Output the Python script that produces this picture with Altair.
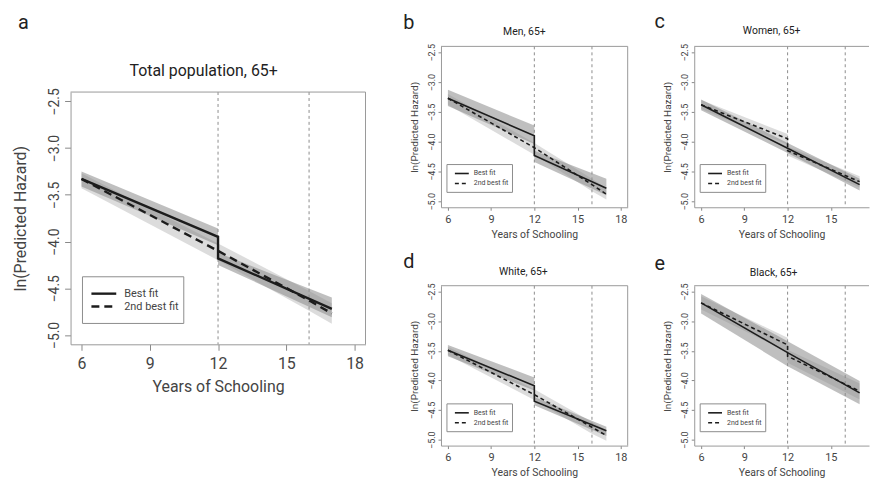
import altair as alt
import pandas as pd

X_TICKS = [6, 9, 12, 15, 18]
X_TICKS_CUT = [6, 9, 12, 15]
Y_TICKS = [-5.0, -4.5, -4.0, -3.5, -3.0, -2.5]
CUTOFFS = [12, 16]
SERIES = ["Best fit", "2nd best fit"]
X_TITLE = "Years of Schooling"
Y_TITLE = "ln(Predicted Hazard)"

# Panel a: Total population, 65+
A_BEST_X = [6, 12, 12, 17]
A_BEST_Y = [-3.33, -3.95, -4.18, -4.72]
A_BEST_LO = [-3.41, -4.04, -4.25, -4.81]
A_BEST_HI = [-3.25, -3.86, -4.12, -4.60]
A_SEC_X = [6, 12, 16, 17]
A_SEC_Y = [-3.33, -4.10, -4.63, -4.77]
A_SEC_LO = [-3.43, -4.20, -4.74, -4.88]
A_SEC_HI = [-3.27, -4.02, -4.53, -4.66]

# Panel b: Men, 65+
B_BEST_X = [6, 12, 12, 17]
B_BEST_Y = [-3.27, -3.90, -4.23, -4.78]
B_BEST_LO = [-3.40, -4.04, -4.34, -4.90]
B_BEST_HI = [-3.13, -3.73, -4.15, -4.62]
B_SEC_X = [6, 12, 16, 17]
B_SEC_Y = [-3.27, -4.10, -4.72, -4.88]
B_SEC_LO = [-3.38, -4.22, -4.83, -4.97]
B_SEC_HI = [-3.20, -4.02, -4.62, -4.78]

# Panel c: Women, 65+
C_BEST_X = [6, 12, 17]
C_BEST_Y = [-3.38, -4.11, -4.72]
C_BEST_LO = [-3.47, -4.19, -4.82]
C_BEST_HI = [-3.29, -4.02, -4.62]
C_SEC_X = [6, 12, 12, 17]
C_SEC_Y = [-3.38, -3.95, -4.15, -4.67]
C_SEC_LO = [-3.45, -4.05, -4.23, -4.77]
C_SEC_HI = [-3.30, -3.87, -4.08, -4.58]

# Panel d: White, 65+
D_BEST_X = [6, 12, 12, 17]
D_BEST_Y = [-3.49, -4.09, -4.35, -4.85]
D_BEST_LO = [-3.59, -4.17, -4.42, -4.94]
D_BEST_HI = [-3.40, -3.95, -4.28, -4.78]
D_SEC_X = [6, 12, 16, 17]
D_SEC_Y = [-3.49, -4.24, -4.79, -4.93]
D_SEC_LO = [-3.57, -4.33, -4.90, -5.02]
D_SEC_HI = [-3.43, -4.15, -4.70, -4.84]

# Panel e: Black, 65+
E_BEST_X = [6, 12, 17]
E_BEST_Y = [-2.69, -3.53, -4.21]
E_BEST_LO = [-2.87, -3.76, -4.40]
E_BEST_HI = [-2.54, -3.34, -4.01]
E_SEC_X = [6, 12, 12, 17]
E_SEC_Y = [-2.69, -3.40, -3.59, -4.18]
E_SEC_LO = [-2.80, -3.52, -3.70, -4.32]
E_SEC_HI = [-2.58, -3.28, -3.48, -4.05]

FONT = "Roboto"
TXT = "#444444"
GRID = "#999999"


def make_df(bx, by, blo, bhi, sx, sy, slo, shi):
    rows = []
    for i, (x, y, lo, hi) in enumerate(zip(bx, by, blo, bhi)):
        rows.append(dict(x=x, y=y, lo=lo, hi=hi, series=SERIES[0], order=i))
    for i, (x, y, lo, hi) in enumerate(zip(sx, sy, slo, shi)):
        rows.append(dict(x=x, y=y, lo=lo, hi=hi, series=SERIES[1], order=i))
    return pd.DataFrame(rows)


ONE = alt.Data(values=[{"k": 0}])


def panel(df, letter, title, st):
    w, h, t = st["w"], st["h"], st["top"]
    xs = alt.Scale(domain=st["xdom"], nice=False, zero=False)
    ys = alt.Scale(domain=[-5.1, -2.4], nice=False, zero=False, range=[h, t])
    xaxis = alt.Axis(values=st["xticks"], format="d", grid=False, domain=True,
                     domainColor=GRID, tickColor="#888888", tickSize=st["tick"],
                     labelFont=FONT, labelFontSize=st["xl"], labelColor=TXT,
                     labelPadding=st["xlp"], titleFont=FONT, titleFontSize=st["xt"],
                     titleFontWeight="normal", titleColor=TXT, titlePadding=st["xtp"],
                     labelFlush=False)
    yaxis = alt.Axis(values=Y_TICKS, format=".1f", grid=False, domain=True,
                     domainColor=GRID, tickColor="#888888", tickSize=st["tick"],
                     labelAngle=270, labelAlign="center", labelBaseline="bottom",
                     labelFont=FONT, labelFontSize=st["yl"], labelColor=TXT,
                     labelPadding=st["ylp"], titleFont=FONT, titleFontSize=st["yt"],
                     titleFontWeight="normal", titleColor=TXT, titlePadding=st["ytp"],
                     labelFlush=False)
    X = alt.X("x:Q", scale=xs, axis=xaxis, title=X_TITLE)
    base = alt.Chart(df)
    band_best = base.mark_area(color="#8a8a8a", opacity=0.55).encode(
        x=X, y=alt.Y("lo:Q", scale=ys, axis=yaxis, title=Y_TITLE), y2="hi:Q"
    ).transform_filter(alt.datum.series == SERIES[0])
    band_sec = base.mark_area(color="#c4c4c4", opacity=0.6).encode(
        x=X, y=alt.Y("lo:Q", scale=ys, axis=yaxis, title=Y_TITLE), y2="hi:Q"
    ).transform_filter(alt.datum.series == SERIES[1])
    vlines = alt.Chart(pd.DataFrame({"x": CUTOFFS})).mark_rule(
        color="#8c8c8c", strokeWidth=1, strokeDash=[3, 3]
    ).encode(x=X, y=alt.value(t), y2=alt.value(h))
    line_best = base.mark_line(color="#1c1c1c", strokeWidth=st["lw"]).encode(
        x=X, y=alt.Y("y:Q", scale=ys, axis=yaxis, title=Y_TITLE), order="order:Q"
    ).transform_filter(alt.datum.series == SERIES[0])
    line_sec = base.mark_line(color="#1c1c1c", strokeWidth=st["lw"], strokeDash=st["dash"]).encode(
        x=X, y=alt.Y("y:Q", scale=ys, axis=yaxis, title=Y_TITLE), order="order:Q"
    ).transform_filter(alt.datum.series == SERIES[1])

    lg = st["lg"]
    leg_box = alt.Chart(ONE).mark_rect(fill="white", stroke="#8c8c8c", strokeWidth=1).encode(
        x=alt.value(lg[0]), x2=alt.value(lg[1]), y=alt.value(lg[2] + t), y2=alt.value(lg[3] + t))
    leg_l1 = alt.Chart(ONE).mark_rule(color="#1c1c1c", strokeWidth=st["lw"]).encode(
        x=alt.value(lg[4]), x2=alt.value(lg[5]), y=alt.value(lg[6] + t))
    leg_l2 = alt.Chart(ONE).mark_rule(color="#1c1c1c", strokeWidth=st["lw"], strokeDash=st["dash"]).encode(
        x=alt.value(lg[4]), x2=alt.value(lg[5]), y=alt.value(lg[7] + t))
    leg_t1 = alt.Chart(ONE).mark_text(text=SERIES[0], align="left", baseline="middle", font=FONT,
                                      fontSize=st["lf"], color=TXT).encode(
        x=alt.value(lg[8]), y=alt.value(lg[6] + t))
    leg_t2 = alt.Chart(ONE).mark_text(text=SERIES[1], align="left", baseline="middle", font=FONT,
                                      fontSize=st["lf"], color=TXT).encode(
        x=alt.value(lg[8]), y=alt.value(lg[7] + t))
    let = alt.Chart(ONE).mark_text(text=letter, align="left", baseline="alphabetic", font=FONT,
                                   fontSize=20, color="#222222").encode(
        x=alt.value(st["let"][0]), y=alt.value(st["let"][1]))
    ttl = alt.Chart(ONE).mark_text(text=title, align="center", baseline="alphabetic", font=FONT,
                                   fontSize=st["tf"], color="#222222").encode(
        x=alt.value(st["ttl"][0]), y=alt.value(st["ttl"][1]))
    box_top = alt.Chart(ONE).mark_rule(color=GRID, strokeWidth=1).encode(
        x=alt.value(0), x2=alt.value(w), y=alt.value(t))
    layers = [band_sec, band_best, vlines, line_sec, line_best,
              leg_box, leg_l1, leg_l2, leg_t1, leg_t2, let, ttl, box_top]
    if not st["cut"]:
        box_right = alt.Chart(ONE).mark_rule(color=GRID, strokeWidth=1).encode(
            x=alt.value(w), y=alt.value(t), y2=alt.value(h))
        layers.append(box_right)
    return alt.layer(*layers).properties(
        width=w, height=h,
        view=alt.ViewBackground(stroke="transparent", strokeWidth=0, strokeOpacity=0))


# panel a: group origin is at the top of the small panels; the box starts 46px lower
STYLE_A = dict(w=297, h=300, top=46, xdom=[5.52, 18.48], xticks=X_TICKS, tick=6,
               xl=16, xlp=5, xt=16, xtp=8, yl=14, ylp=3, yt=16, ytp=19, lw=2.4, dash=[8, 5],
               lg=[12, 114, 186, 233, 21, 46, 203, 216, 54], lf=11,
               let=[-53, -18], ttl=[134, 30], tf=16, cut=False)
SMALL = dict(h=162, top=0, tick=3, xl=11, xlp=3, xt=10.5, xtp=5, yl=9, ylp=2,
             yt=10, ytp=8, lw=1.6, dash=[4, 3], lf=7, tf=10.5,
             lg=[6, 72, 119, 147, 14, 28, 128, 138, 33])
STYLE_B = dict(SMALL, w=188, xdom=[5.52, 18.48], xticks=X_TICKS, let=[-38, -18], ttl=[84, -11], cut=False)
STYLE_C = dict(SMALL, w=176, xdom=[5.52, 17.65], xticks=X_TICKS_CUT, let=[-40, -19], ttl=[78, -12], cut=True)
STYLE_D = dict(SMALL, w=188, h=161, xdom=[5.52, 18.48], xticks=X_TICKS, let=[-38, -18], ttl=[83, -11], cut=False)
STYLE_E = dict(SMALL, w=176, h=161, xdom=[5.52, 17.65], xticks=X_TICKS_CUT, let=[-40, -16], ttl=[80, -10], cut=True)

pa = panel(make_df(A_BEST_X, A_BEST_Y, A_BEST_LO, A_BEST_HI, A_SEC_X, A_SEC_Y, A_SEC_LO, A_SEC_HI),
           "a", "Total population, 65+", STYLE_A)
pb = panel(make_df(B_BEST_X, B_BEST_Y, B_BEST_LO, B_BEST_HI, B_SEC_X, B_SEC_Y, B_SEC_LO, B_SEC_HI),
           "b", "Men, 65+", STYLE_B)
pc = panel(make_df(C_BEST_X, C_BEST_Y, C_BEST_LO, C_BEST_HI, C_SEC_X, C_SEC_Y, C_SEC_LO, C_SEC_HI),
           "c", "Women, 65+", STYLE_C)
pd_ = panel(make_df(D_BEST_X, D_BEST_Y, D_BEST_LO, D_BEST_HI, D_SEC_X, D_SEC_Y, D_SEC_LO, D_SEC_HI),
            "d", "White, 65+", STYLE_D)
pe = panel(make_df(E_BEST_X, E_BEST_Y, E_BEST_LO, E_BEST_HI, E_SEC_X, E_SEC_Y, E_SEC_LO, E_SEC_HI),
           "e", "Black, 65+", STYLE_E)

right = alt.vconcat(alt.hconcat(pb, pc, spacing=26), alt.hconcat(pd_, pe, spacing=26), spacing=12)
chart = alt.hconcat(pa, right, spacing=37).properties(
    padding={"left": 5, "top": 2, "right": 0, "bottom": 0}
).configure_view(stroke="transparent", strokeWidth=0, strokeOpacity=0).configure(background="white")

chart.save("out.html", embed_options={"renderer": "svg", "actions": False})
